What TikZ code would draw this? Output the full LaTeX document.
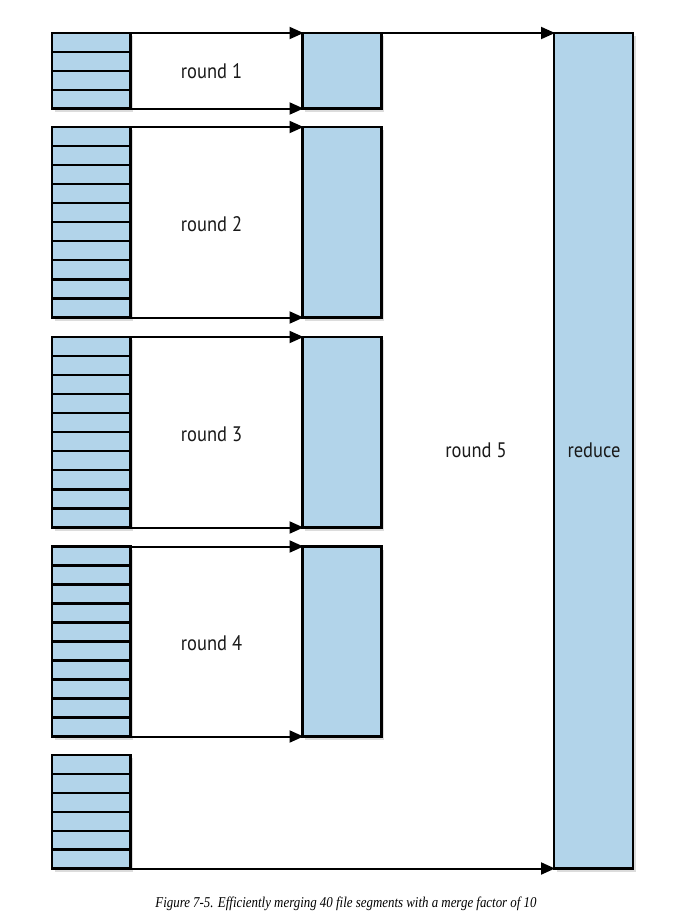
\documentclass[tikz,border=0pt]{standalone}
\usepackage{fontspec}
\usetikzlibrary{calc,arrows.meta,shadows}
\newfontfamily\labelfont[FakeStretch=0.88]{PT Sans}
\newfontfamily\capfont[FakeStretch=0.86]{Liberation Serif}
\definecolor{segblue}{RGB}{178,212,234}
\tikzset{
  box/.style={draw=black, line width=2.4pt, fill=segblue, inner sep=0pt, outer sep=0pt,
    drop shadow={opacity=0.28, shadow xshift=2.5pt, shadow yshift=-3pt}},
  seg/.style={draw=black, line width=2.2pt},
  flow/.style={draw=black, line width=2pt, -{Triangle[length=14pt,width=12pt]}, shorten >=-1pt},
  lbl/.style={font=\labelfont\fontsize{21}{24}\selectfont, text=black!90, inner sep=0pt}
}
\begin{document}
\begin{tikzpicture}[x=1pt,y=-1pt]
\useasboundingbox (0,0) rectangle (698,916);
% stacks of segments
\node[box, minimum width=78.5pt, minimum height=75.5pt] (s1) at (91.25,70.75) {};
\node[box, minimum width=78.5pt, minimum height=190.5pt] (s2) at (91.25,222.25) {};
\node[box, minimum width=78.5pt, minimum height=190.5pt] (s3) at (91.25,432.25) {};
\node[box, minimum width=78.5pt, minimum height=190pt] (s4) at (91.25,641.5) {};
\node[box, minimum width=78.5pt, minimum height=113.5pt] (s5) at (91.25,811.75) {};
% merged outputs
\node[box, minimum width=79pt, minimum height=75.5pt] (m1) at (342,70.75) {};
\node[box, minimum width=79pt, minimum height=190.5pt] (m2) at (342,222.25) {};
\node[box, minimum width=79pt, minimum height=190.5pt] (m3) at (342,432.25) {};
\node[box, minimum width=79pt, minimum height=190pt] (m4) at (342,641.5) {};
% reduce
\node[box, minimum width=79pt, minimum height=835.5pt] (r) at (593.5,450.75) {};
% segment divisions
\foreach \i in {1,...,3}
  \draw[seg] ($(s1.north west)!\i/4!(s1.south west)$) -- ($(s1.north east)!\i/4!(s1.south east)$);
\foreach \s in {s2,s3,s4}
  \foreach \i in {1,...,9}
    \draw[seg] ($(\s.north west)!\i/10!(\s.south west)$) -- ($(\s.north east)!\i/10!(\s.south east)$);
\foreach \i in {1,...,5}
  \draw[seg] ($(s5.north west)!\i/6!(s5.south west)$) -- ($(s5.north east)!\i/6!(s5.south east)$);
% redraw borders over segment lines
\foreach \s in {s1,s2,s3,s4,s5}
  \draw[line width=2.4pt] (\s.north west) rectangle (\s.south east);
% arrows
\foreach \k in {1,2,3,4} {
  \draw[flow] (s\k.north east) -- (m\k.north west);
  \draw[flow] (s\k.south east) -- (m\k.south west);
}
\draw[flow] (m1.north east) -- (r.north west);
\draw[flow] (s5.south east) -- (r.south west);
% labels
\node[lbl] (l1) at (211.5,71) {round 1};
\node[lbl] (l2) at (211.5,224) {round 2};
\node[lbl] (l3) at (211.5,434) {round 3};
\node[lbl] (l4) at (211.5,643) {round 4};
\node[lbl] (l5) at (476,450) {round 5};
\node[lbl] (lr) at (594,450) {reduce};
% caption
\node[font=\capfont\itshape\fontsize{15}{18}\selectfont, inner sep=0pt] (cap) at (346,904)
  {Figure 7-5. Efficiently merging 40 file segments with a merge factor of 10};
\end{tikzpicture}
\end{document}
